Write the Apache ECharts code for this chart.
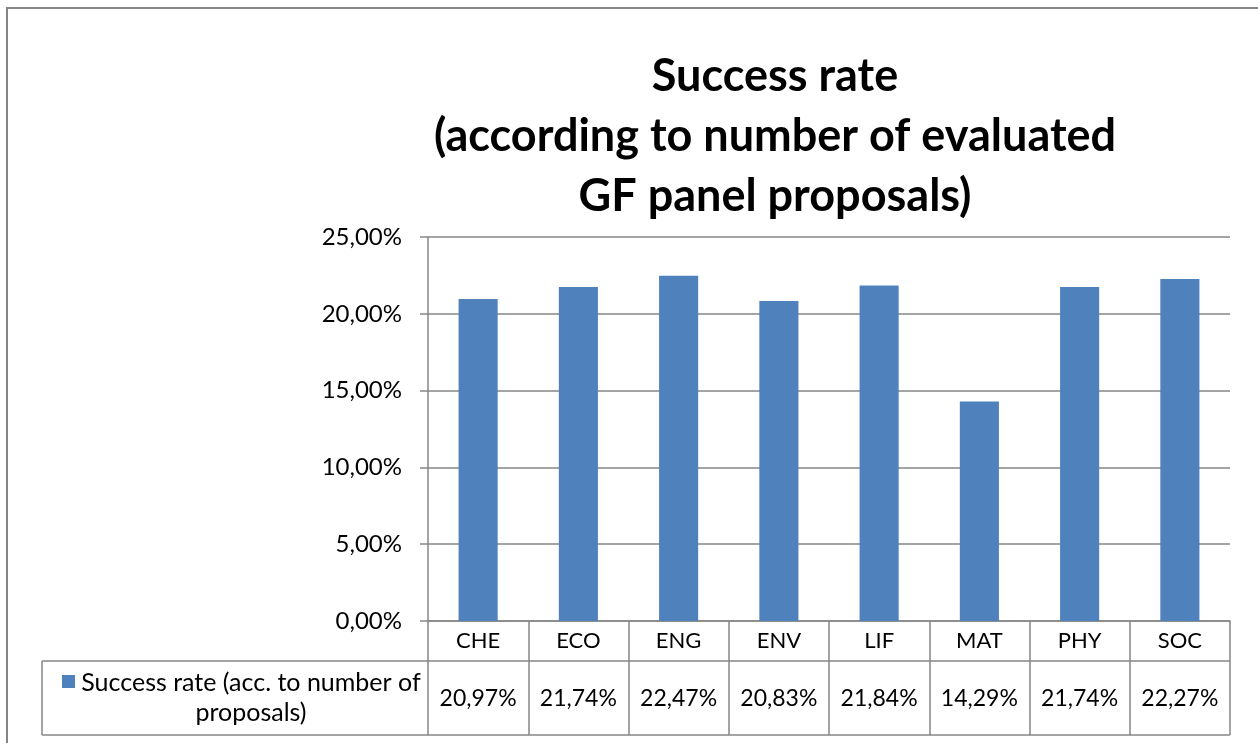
<!DOCTYPE html>
<html>
<head>
<meta charset="utf-8">
<script src="https://cdn.jsdelivr.net/npm/echarts@6/dist/echarts.min.js"></script>
<style>
html,body{margin:0;padding:0;background:#fff;}
#chart{width:1258px;height:743px;}
</style>
</head>
<body>
<div id="chart"></div>
<script>
// ---- data ----
const categories = ['CHE', 'ECO', 'ENG', 'ENV', 'LIF', 'MAT', 'PHY', 'SOC'];
const successRate = [20.97, 21.74, 22.47, 20.83, 21.84, 14.29, 21.74, 22.27];
const yTicks = [0, 5, 10, 15, 20, 25];
const seriesName = 'Success rate (acc. to number of\nproposals)';
const titleLines = ['Success rate', '(according to number of evaluated', 'GF panel proposals)'];

const FONT = 'Lato';
const BLUE = '#4F81BD';
const GRAY = '#868686';
const fmt = v => v.toFixed(2).replace('.', ',') + '%';

const chart = echarts.init(document.getElementById('chart'), null, {renderer: 'canvas'});
chart.setOption({
  backgroundColor: '#fff',
  animation: false,
  textStyle: {fontFamily: FONT},
  title: {
    text: titleLines.join('\n'),
    left: 770,
    top: 41,
    textAlign: 'center',
    textStyle: {fontFamily: FONT, fontWeight: 'bold', fontSize: 45, lineHeight: 60, color: '#000'}
  },
  grid: {left: 428, right: 28, top: 237, bottom: 122, containLabel: false},
  xAxis: [{
    type: 'category',
    data: categories,
    position: 'bottom',
    axisLine: {show: true, lineStyle: {color: GRAY, width: 1.5}},
    axisTick: {show: true, length: 114, interval: 0, lineStyle: {color: GRAY, width: 1.5}},
    axisLabel: {color: '#000', fontSize: 22, margin: 9, interval: 0, hideOverlap: false, fontFamily: FONT}
  }, {
    type: 'category',
    data: categories,
    position: 'bottom',
    offset: 40,
    axisLine: {show: false},
    axisTick: {show: false},
    axisLabel: {color: '#000', fontSize: 23, margin: 26, interval: 0, hideOverlap: false, fontFamily: FONT,
      formatter: (v, i) => fmt(successRate[i])}
  }],
  yAxis: {
    type: 'value',
    min: yTicks[0],
    max: yTicks[yTicks.length - 1],
    interval: yTicks[1] - yTicks[0],
    axisLine: {show: true, lineStyle: {color: GRAY, width: 1.5}},
    axisTick: {show: true, length: 8, lineStyle: {color: GRAY, width: 1.5}},
    splitLine: {show: true, lineStyle: {color: GRAY, width: 1.5}},
    axisLabel: {color: '#000', fontSize: 24, margin: 26, fontFamily: FONT, formatter: v => fmt(v)}
  },
  series: [{
    name: seriesName,
    type: 'bar',
    xAxisIndex: 0,
    data: successRate,
    barWidth: '39%',
    itemStyle: {color: BLUE}
  }],
  graphic: [
    // outer chart border
    {type: 'rect', shape: {x: 7, y: 8, width: 1262, height: 750}, style: {fill: 'none', stroke: GRAY, lineWidth: 2}, silent: true},
    // data table borders
    {type: 'line', shape: {x1: 42, y1: 661, x2: 1230, y2: 661}, style: {stroke: GRAY, lineWidth: 1.5}},
    {type: 'line', shape: {x1: 42, y1: 735, x2: 1230, y2: 735}, style: {stroke: GRAY, lineWidth: 1.5}},
    {type: 'line', shape: {x1: 42, y1: 661, x2: 42, y2: 735}, style: {stroke: GRAY, lineWidth: 1.5}},
    // legend key in table
    {type: 'rect', shape: {x: 62, y: 675, width: 13, height: 13}, style: {fill: BLUE}},
    {type: 'text', x: 251, y: 698, style: {text: seriesName, fontFamily: FONT, fontSize: 25, lineHeight: 30,
      fill: '#000', align: 'center', verticalAlign: 'middle'}}
  ]
});
</script>
</body>
</html>
